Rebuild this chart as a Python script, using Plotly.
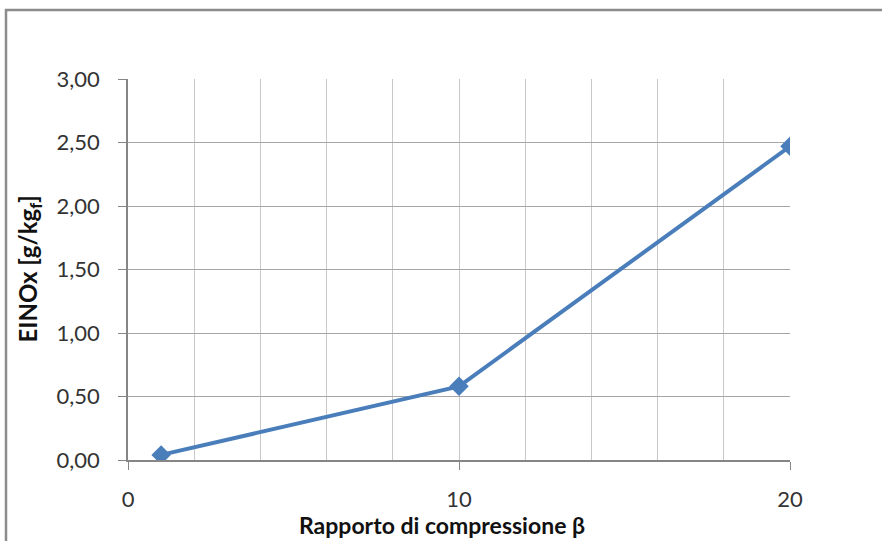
import plotly.graph_objects as go

beta = [1, 10, 20]
einox = [0.04, 0.58, 2.47]

W, H = 882, 541
L, R, T, B = 128, 92, 79, 81
pw, ph = W - L - R, H - T - B

font = "Lato, 'Open Sans', sans-serif"

fig = go.Figure(go.Scatter(
    x=beta, y=einox, mode="lines+markers",
    line=dict(color="#4a7ebb", width=4),
    marker=dict(symbol="diamond", size=15, color="#4a7ebb"),
    showlegend=False,
))

fig.update_layout(
    width=W, height=H,
    margin=dict(l=L, r=R, t=T, b=B),
    paper_bgcolor="white", plot_bgcolor="white",
    separators=",.",
    font=dict(family=font, size=22, color="#222"),
    xaxis=dict(
        range=[0, 20], tickmode="linear", tick0=0, dtick=10,
        showgrid=True, gridcolor="#c8c8c8", gridwidth=1,
        minor=dict(dtick=2, showgrid=True, gridcolor="#c8c8c8", gridwidth=1),
        ticks="outside", ticklen=8, tickcolor="#868686",
        showline=True, linecolor="#868686", linewidth=1.5,
        zeroline=False, mirror=False,
        ticklabelstandoff=11,
        tickfont=dict(size=22, color="#333"),
    ),
    yaxis=dict(
        range=[0, 3], tickmode="linear", tick0=0, dtick=0.5,
        tickformat=".2f",
        showgrid=True, gridcolor="#a6a6a6", gridwidth=1,
        ticks="outside", ticklen=8, tickcolor="#868686",
        showline=True, linecolor="#868686", linewidth=1.5,
        zeroline=False,
        ticklabelstandoff=14,
        tickfont=dict(size=22, color="#333"),
    ),
    annotations=[
        dict(text="<b>Rapporto di compressione β</b>", xref="paper", yref="paper",
             x=(442 - L) / pw, y=(H - 525 - B) / ph, showarrow=False,
             xanchor="center", yanchor="middle", font=dict(size=23, color="#111")),
        dict(text="<b>EINOx [g/kg<sub>f</sub>]</b>", xref="paper", yref="paper",
             x=(29 - L) / pw, y=0.5, showarrow=False, textangle=-90,
             xanchor="center", yanchor="middle", font=dict(size=24, color="#111")),
    ],
    shapes=[
        dict(type="rect", xref="paper", yref="paper",
             x0=(6 - L) / pw, x1=(W + 10 - L) / pw,
             y0=(-(H + 10 - (H - B))) / ph, y1=(H - 10 - B) / ph,
             line=dict(color="#8c8c8c", width=2.5), fillcolor="rgba(0,0,0,0)",
             layer="above"),
    ],
)

fig.write_html(
    "out.html",
    config={"displayModeBar": False},
    post_script="document.body.style.margin='0';document.body.style.overflow='hidden';",
)
